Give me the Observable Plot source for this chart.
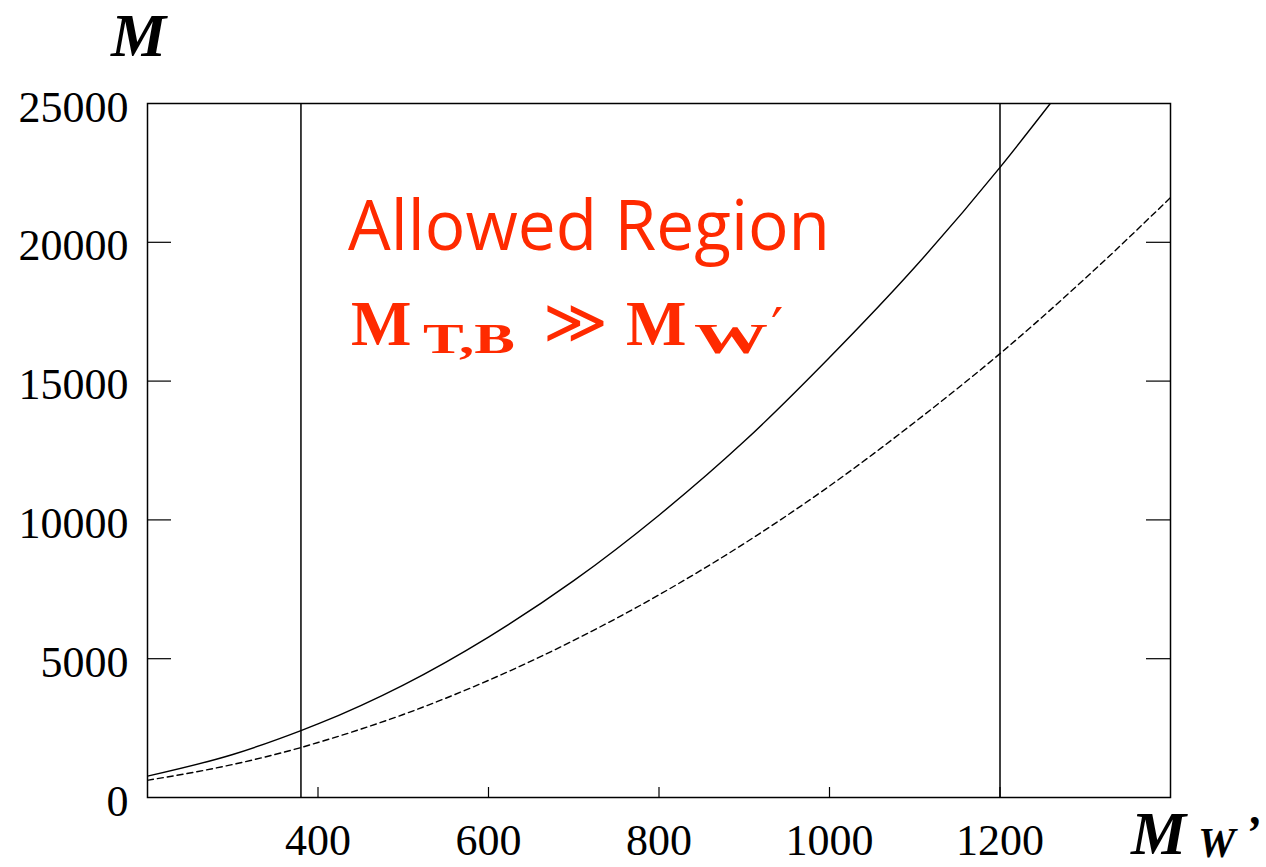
<!DOCTYPE html>
<html><head><meta charset="utf-8">
<script src="https://cdn.jsdelivr.net/npm/d3@7"></script>
<script src="https://cdn.jsdelivr.net/npm/@observablehq/plot@0.6"></script>
<style>body{margin:0;background:#fff;} #chart{width:1266px;height:867px;}</style>
</head><body><div id="chart"></div>
<script>
// Data
const solidW = [200, 300, 380, 400, 500, 600, 700, 800, 900, 1000, 1100, 1200, 1259];
const solidM = [770, 1550, 2410, 2650, 4050, 5780, 7810, 10170, 12830, 15850, 19100, 22700, 25000];
const dashedW = [200, 300, 380, 400, 500, 600, 700, 800, 900, 1000, 1100, 1200, 1300, 1400];
const dashedM = [620, 1190, 1800, 1980, 2990, 4220, 5660, 7300, 9150, 11220, 13520, 15990, 18700, 21610];
const limits = [380, 1200];
const xTicks = [400, 600, 800, 1000, 1200];
const yTicks = [0, 5000, 10000, 15000, 20000, 25000];

const solid = solidW.map((x, i) => ({x, y: solidM[i]}));
const dashed = dashedW.map((x, i) => ({x, y: dashedM[i]}));

const W = 1266, H = 867, mL = 147, mR = 96, mT = 103, mB = 70;
const innerW = W - mL - mR, innerH = H - mT - mB;
const serif = "'Liberation Serif','Times New Roman',serif";

const plot = Plot.plot({
  width: W, height: H,
  marginLeft: mL, marginRight: mR, marginTop: mT, marginBottom: mB,
  style: {fontFamily: serif, fontSize: "44px", color: "#000", background: "#fff"},
  x: {domain: [200, 1400]},
  y: {domain: [0, 25000]},
  marks: [
    Plot.ruleX(xTicks, {insetTop: innerH - 10, stroke: "#000", strokeWidth: 1.2}),
    Plot.ruleY(yTicks.slice(1, -1), {insetRight: innerW - 24, stroke: "#000", strokeWidth: 1.2}),
    Plot.ruleY(yTicks.slice(1, -1), {insetLeft: innerW - 24, stroke: "#000", strokeWidth: 1.2}),
    Plot.axisX(xTicks, {tickSize: 0, tickPadding: 26, tickFormat: d => String(d), label: null, fontSize: 44}),
    Plot.axisY(yTicks, {tickSize: 0, tickPadding: 19, tickFormat: d => String(d), label: null, fontSize: 44, dy: 4}),
    Plot.ruleX(limits, {stroke: "#000", strokeWidth: 1.5}),
    Plot.line(solid, {x: "x", y: "y", curve: "monotone-x", stroke: "#000", strokeWidth: 1.4, clip: true}),
    Plot.line(dashed, {x: "x", y: "y", curve: "monotone-x", stroke: "#000", strokeWidth: 1.4, strokeDasharray: "6,4", clip: true}),
    Plot.frame({stroke: "#000", strokeWidth: 1.5})
  ]
});
document.getElementById("chart").appendChild(plot);

const svg = d3.select(plot);
const red = "#ff2a00";

// Axis titles
const ty = svg.append("text").attr("text-anchor", "start").attr("font-family", serif).attr("font-weight", "bold")
  .attr("font-style", "italic").attr("fill", "#000");
ty.append("tspan").attr("x", 111).attr("y", 56).attr("font-size", 62).text("M");

const tx = svg.append("text").attr("text-anchor", "start").attr("font-family", serif).attr("font-weight", "bold")
  .attr("font-style", "italic").attr("fill", "#000");
tx.append("tspan").attr("x", 1131).attr("y", 854).attr("font-size", 62).text("M");
tx.append("tspan").attr("x", 1198).attr("y", 857).attr("font-size", 42).text("W");
tx.append("tspan").attr("x", 1245).attr("y", 848).attr("font-size", 46).text("’");

// Annotation
svg.append("text").attr("text-anchor", "start").attr("x", 348).attr("y", 250)
  .attr("font-family", "'Open Sans',sans-serif").attr("font-size", 70)
  .attr("fill", red).attr("textLength", 482).attr("lengthAdjust", "spacingAndGlyphs")
  .text("Allowed Region");

const t2 = svg.append("text").attr("text-anchor", "start").attr("fill", red).attr("font-family", serif).attr("font-weight", "bold");
t2.append("tspan").attr("x", 351).attr("y", 345).attr("font-size", 64).text("M");
t2.append("tspan").attr("x", 423).attr("y", 353).attr("font-size", 42)
  .attr("textLength", 92).attr("lengthAdjust", "spacingAndGlyphs").text("T,B");
t2.append("tspan").attr("x", 543).attr("y", 343).attr("font-size", 62)
  .attr("font-weight", "normal").attr("font-family", "'DejaVu Sans',sans-serif").text("≫");
t2.append("tspan").attr("x", 626).attr("y", 345).attr("font-size", 64).text("M");
t2.append("tspan").attr("x", 694).attr("y", 353).attr("font-size", 42)
  .attr("textLength", 74).attr("lengthAdjust", "spacingAndGlyphs").text("W");
t2.append("tspan").attr("x", 771).attr("y", 346).attr("font-size", 54)
  .attr("font-weight", "normal").attr("font-family", "'DejaVu Sans',sans-serif").text("′");
</script>
</body></html>
